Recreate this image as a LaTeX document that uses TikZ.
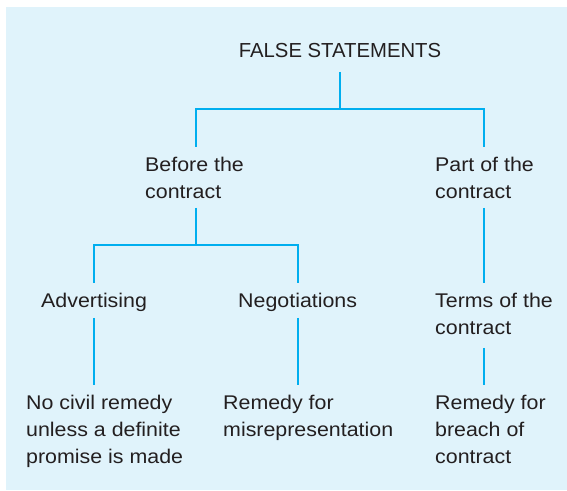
\documentclass[tikz,border=0pt]{standalone}
\usepackage{fontspec}
\setmainfont{Liberation Sans}
\newfontfamily\widesans{Liberation Sans}[FakeStretch=1.08]
\definecolor{bgblue}{HTML}{E0F3FB}
\definecolor{linecyan}{HTML}{00AEEF}
\definecolor{txt}{HTML}{231F20}
\begin{document}
\begin{tikzpicture}[x=1pt,y=1pt,
  conn/.style={draw=linecyan,line width=2.8pt},
  lbl/.style={inner sep=0pt,anchor=base west,align=left,text=txt,
    font=\widesans\fontsize{19.8}{27}\selectfont}]
\useasboundingbox (0,0) rectangle (567,490);
\fill[bgblue] (6,0) rectangle (567,483);
% nodes (base = baseline of the last line)
\node[lbl,anchor=base,font=\fontsize{20.3}{27}\selectfont] (fs) at (340,432) {FALSE STATEMENTS};
\node[lbl] (before) at (145,291) {Before the\\contract};
\node[lbl] (part) at (435,291) {Part of the\\contract};
\node[lbl] (adv) at (41,182) {Advertising};
\node[lbl] (neg) at (238,182) {Negotiations};
\node[lbl] (terms) at (435,155) {Terms of the\\contract};
\node[lbl] (civil) at (26,27) {No civil remedy\\unless a definite\\promise is made};
\node[lbl] (remmis) at (223,54) {Remedy for\\misrepresentation};
\node[lbl] (rembr) at (435,27) {Remedy for\\breach of\\contract};
% junction points
\coordinate (j1) at (340,381);
\coordinate (j1l) at (196,381);
\coordinate (j1r) at (484,381);
\coordinate (j2) at (196,245);
\coordinate (j2l) at (94,245);
\coordinate (j2r) at (298,245);
% connectors
\draw[conn] (fs.base |- 0,418) -- (j1);
\draw[conn,line cap=rect] (j1l) -- (j1r);
\draw[conn] (j1l) -- (j1l |- 0,343);
\draw[conn] (j1r) -- (j1r |- 0,343);
\draw[conn] (j2 |- 0,282) -- (j2);
\draw[conn,line cap=rect] (j2l) -- (j2r);
\draw[conn] (j2l) -- (j2l |- 0,207);
\draw[conn] (j2r) -- (j2r |- 0,207);
\draw[conn] (j1r |- 0,282) -- (j1r |- 0,207);
\draw[conn] (j2l |- 0,172) -- (j2l |- 0,105);
\draw[conn] (j2r |- 0,172) -- (j2r |- 0,105);
\draw[conn] (j1r |- 0,142) -- (j1r |- 0,105);
\end{tikzpicture}
\end{document}
